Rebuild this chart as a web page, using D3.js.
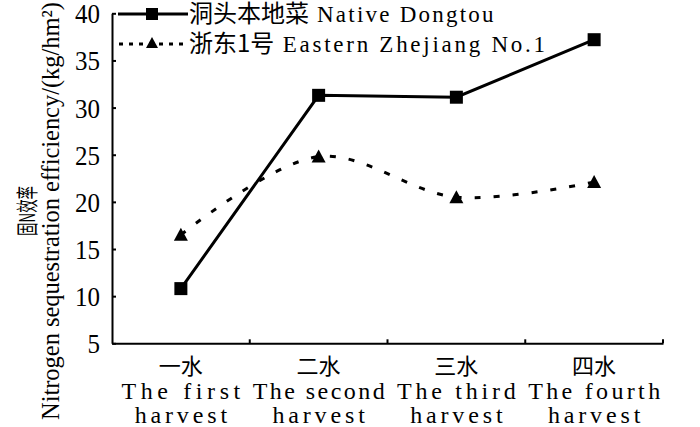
<!DOCTYPE html>
<html>
<head>
<meta charset="utf-8">
<script src="https://cdn.jsdelivr.net/npm/d3@7"></script>
<style>
  html, body { margin: 0; padding: 0; background: #fff; }
  svg { display: block; }
</style>
</head>
<body>
<svg id="chart" width="700" height="427"></svg>
<script>
// ---- data ----
const categoriesCN = ["一水", "二水", "三水", "四水"];
const categoriesEN1 = ["The first", "The second", "The third", "The fourth"];
const categoriesEN2 = ["harvest", "harvest", "harvest", "harvest"];
const nativeDongtou = [10.8, 31.3, 31.1, 37.2];
const easternZhejiang = [16.5, 24.8, 20.5, 22.1];
const yTicks = [5, 10, 15, 20, 25, 30, 35, 40];
const seriesNames = [
  { cn: "洞头本地菜", en: " Native Dongtou" },
  { cn: "浙东1号", en: " Eastern Zhejiang No.1" }
];
const yTitleCN = "固N效率";
const yTitleEN = "Nitrogen sequestration efficiency/(kg/hm²)";

(function () {
// ---- layout ----
const svg = d3.select("#chart");
const pLeft = 112, pRight = 663, pTop = 13.3, pBottom = 343.3;
const CJK = "'Noto Sans CJK SC', sans-serif";
const SERIF = "'Liberation Serif', 'Times New Roman', serif";

const band = d3.scaleBand().domain(categoriesCN).range([pLeft, pRight]);
const xc = c => band(c) + band.bandwidth() / 2;
const y = d3.scaleLinear().domain([5, 40]).range([pBottom, pTop]);

// y axis
const yAxis = svg.append("g")
  .attr("transform", `translate(${pLeft},0)`)
  .call(d3.axisLeft(y).tickValues(yTicks).tickSizeInner(-4).tickSizeOuter(0).tickPadding(12));
yAxis.select(".domain").attr("stroke", "#000").attr("stroke-width", 2);
yAxis.selectAll(".tick line").attr("stroke", "#000").attr("stroke-width", 2);
yAxis.selectAll(".tick text")
  .attr("font-family", SERIF).attr("font-size", 28).attr("fill", "#000")
  .attr("dy", "0.34em")
  .attr("textLength", d => String(d).length * 12.5)
  .attr("lengthAdjust", "spacingAndGlyphs");

// x axis
const xAxis = svg.append("g")
  .attr("transform", `translate(0,${pBottom})`)
  .call(d3.axisBottom(band).tickSize(0).tickFormat(""));
xAxis.select(".domain").attr("stroke", "#000").attr("stroke-width", 2);
xAxis.selectAll(".tick").remove();
xAxis.selectAll("line.bt")
  .data(categoriesCN)
  .join("line")
  .attr("class", "bt")
  .attr("x1", c => band(c) + band.bandwidth())
  .attr("x2", c => band(c) + band.bandwidth())
  .attr("y1", 0).attr("y2", -4)
  .attr("stroke", "#000").attr("stroke-width", 2);

// x labels
const xl = svg.append("g");
categoriesCN.forEach((c, i) => {
  xl.append("text").attr("x", xc(c)).attr("y", 374)
    .attr("text-anchor", "middle").attr("font-family", CJK).attr("font-size", 22)
    .text(c);
  xl.append("text").attr("x", xc(c)).attr("y", 399)
    .attr("text-anchor", "middle").attr("font-family", SERIF).attr("font-size", 24)
    .attr("textLength", categoriesEN1[i].length * 13.2).attr("lengthAdjust", "spacing")
    .text(categoriesEN1[i]);
  xl.append("text").attr("x", xc(c)).attr("y", 423)
    .attr("text-anchor", "middle").attr("font-family", SERIF).attr("font-size", 24)
    .attr("textLength", categoriesEN2[i].length * 13.2).attr("lengthAdjust", "spacing")
    .text(categoriesEN2[i]);
});

// y title
svg.append("text")
  .attr("transform", "translate(35,211) rotate(-90)")
  .attr("text-anchor", "middle").attr("font-family", CJK).attr("font-size", 22)
  .attr("textLength", 50).attr("lengthAdjust", "spacingAndGlyphs")
  .text(yTitleCN);
svg.append("text")
  .attr("transform", "translate(59,211) rotate(-90)")
  .attr("text-anchor", "middle").attr("font-family", SERIF).attr("font-size", 25)
  .attr("textLength", 418).attr("lengthAdjust", "spacingAndGlyphs")
  .text(yTitleEN);

// lines
const solidLine = d3.line().x((d, i) => xc(categoriesCN[i])).y(d => y(d));
const smoothLine = d3.line().x((d, i) => xc(categoriesCN[i])).y(d => y(d))
  .curve(d3.curveCatmullRom.alpha(0.5));

svg.append("path").datum(easternZhejiang)
  .attr("d", smoothLine).attr("fill", "none").attr("stroke", "#000")
  .attr("stroke-width", 3).attr("stroke-dasharray", "6,13");
svg.append("path").datum(nativeDongtou)
  .attr("d", solidLine).attr("fill", "none").attr("stroke", "#000")
  .attr("stroke-width", 3);

const sq = 13;
const triPath = "M0,-7L7,6L-7,6Z";
svg.selectAll("rect.m1").data(nativeDongtou).join("rect").attr("class", "m1")
  .attr("x", (d, i) => xc(categoriesCN[i]) - sq / 2)
  .attr("y", d => y(d) - sq / 2)
  .attr("width", sq).attr("height", sq).attr("fill", "#000");
svg.selectAll("path.m2").data(easternZhejiang).join("path").attr("class", "m2")
  .attr("transform", (d, i) => `translate(${xc(categoriesCN[i])},${y(d)})`)
  .attr("d", triPath).attr("fill", "#000");

// legend
const lg = svg.append("g");
const rows = [14, 44];
lg.append("line").attr("x1", 118).attr("x2", 188).attr("y1", rows[0]).attr("y2", rows[0])
  .attr("stroke", "#000").attr("stroke-width", 3);
lg.append("rect").attr("x", 152 - 6).attr("y", rows[0] - 6).attr("width", 12).attr("height", 12).attr("fill", "#000");
lg.append("line").attr("x1", 119).attr("x2", 188).attr("y1", rows[1]).attr("y2", rows[1])
  .attr("stroke", "#000").attr("stroke-width", 3).attr("stroke-dasharray", "4,6");
lg.append("path").attr("transform", `translate(152,${rows[1] - 1})`).attr("d", "M0,-6L6,5L-6,5Z").attr("fill", "#000");

seriesNames.forEach((s, i) => {
  const cn = lg.append("text").attr("x", 189).attr("y", rows[i] + 8)
    .attr("font-family", CJK).attr("font-size", 24).text(s.cn);
  const w = cn.node().getComputedTextLength();
  lg.append("text").attr("x", 189 + w).attr("y", rows[i] + 8)
    .attr("font-family", SERIF).attr("font-size", 23)
    .attr("textLength", s.en.length * 12.3).attr("lengthAdjust", "spacing")
    .attr("xml:space", "preserve").style("white-space", "pre")
    .text(s.en);
});
})();
</script>
</body>
</html>
